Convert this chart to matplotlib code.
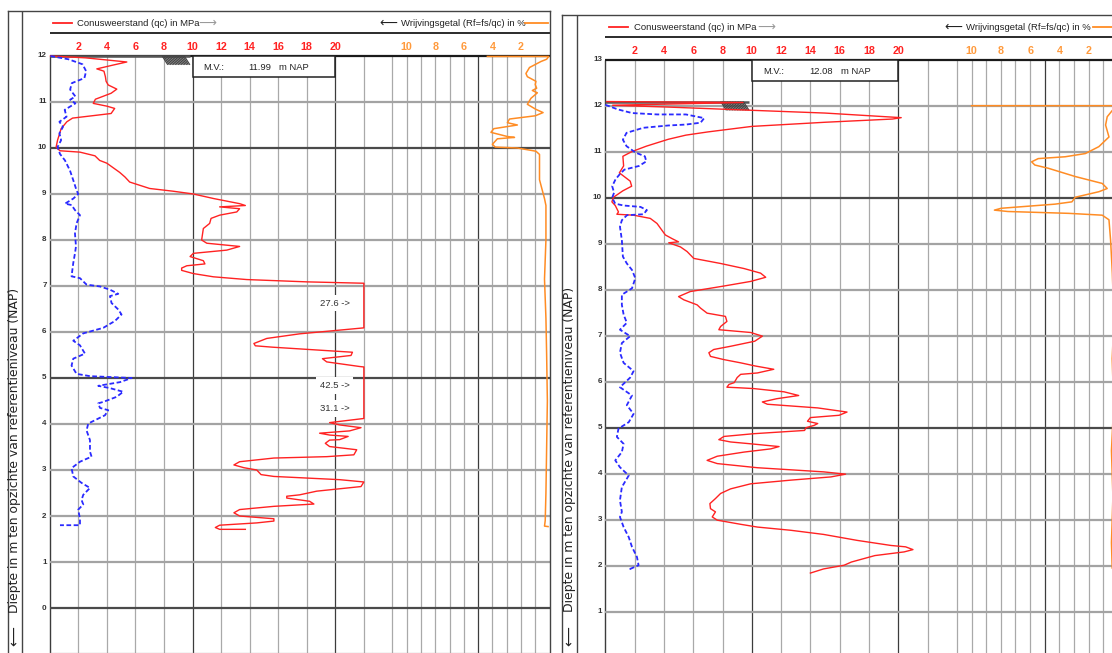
import numpy as np
import matplotlib
matplotlib.use('Agg')
import matplotlib.pyplot as plt
from matplotlib import font_manager
from matplotlib.patches import Rectangle

# pick a condensed font if there is one
names = {f.name for f in font_manager.fontManager.ttflist}
NARROW = 'Liberation Sans Narrow' if 'Liberation Sans Narrow' in names else 'Liberation Sans'
SCALE = 1.0 if NARROW == 'Liberation Sans Narrow' else 0.82

# ---------------- data: (value, depth m NAP) ----------------
# left sounding, M.V. 11.99 m NAP
mv_left = 11.99
qc_left = np.array([
    (0.05, 12.00), (2.5, 11.96), (5.4, 11.87), (4.4, 11.80), (3.3, 11.72), (3.8, 11.67),
    (3.9, 11.55), (3.95, 11.45), (4.1, 11.37), (4.7, 11.28), (4.3, 11.19), (3.2, 11.06),
    (3.05, 10.97), (4.0, 10.91), (4.55, 10.86), (4.3, 10.75), (1.6, 10.65), (1.2, 10.57),
    (0.8, 10.42), (0.55, 10.17), (0.45, 10.02), (0.72, 9.94), (2.12, 9.91), (3.17, 9.83),
    (3.5, 9.73), (4.0, 9.67), (4.9, 9.47), (5.27, 9.37), (5.6, 9.26), (7.0, 9.12),
    (8.66, 9.06), (10.06, 9.00), (11.5, 8.90), (13.3, 8.79), (13.7, 8.75), (11.9, 8.72),
    (13.3, 8.68), (13.1, 8.61), (11.9, 8.54), (11.3, 8.47), (11.2, 8.36), (10.76, 8.25),
    (10.64, 8.00), (11.0, 7.93), (13.3, 7.86), (12.4, 7.78), (10.06, 7.71), (9.83, 7.64),
    (10.76, 7.55), (10.87, 7.48), (9.6, 7.44), (9.24, 7.39), (9.24, 7.34), (10.06, 7.27),
    (11.46, 7.20), (13.8, 7.14), (18.0, 7.09), (22.0, 7.06), (22.0, 6.09), (17.5, 5.96),
    (15.2, 5.86), (14.3, 5.75), (14.4, 5.70), (15.6, 5.67), (21.2, 5.56), (21.1, 5.49),
    (19.1, 5.42), (19.4, 5.35), (21.7, 5.25), (22.0, 5.24), (22.0, 4.12), (19.6, 4.03),
    (20.3, 3.98), (21.8, 3.92), (21.0, 3.85), (18.9, 3.80), (19.6, 3.76), (20.9, 3.73),
    (20.3, 3.66), (19.6, 3.65), (19.3, 3.58), (19.6, 3.51), (21.5, 3.44), (21.3, 3.33),
    (19.4, 3.29), (15.7, 3.26), (13.3, 3.18), (12.9, 3.11), (13.6, 3.05), (14.5, 3.00),
    (14.8, 2.90), (15.7, 2.86), (20.3, 2.79), (22.0, 2.74), (21.8, 2.64), (18.7, 2.54),
    (17.5, 2.46), (16.6, 2.43), (16.6, 2.39), (18.2, 2.32), (18.5, 2.26), (15.7, 2.21),
    (13.3, 2.14), (12.9, 2.07), (13.3, 2.00), (15.7, 1.94), (15.7, 1.89), (14.5, 1.85),
    (11.9, 1.80), (11.6, 1.75), (11.9, 1.71), (13.7, 1.71)])
fs_left = np.array([
    (0.05, 12.00), (1.3, 11.93), (2.3, 11.82), (2.55, 11.67), (2.43, 11.52), (1.55, 11.41),
    (1.43, 11.27), (1.8, 11.12), (1.43, 11.05), (1.8, 10.97), (1.05, 10.83), (1.18, 10.68),
    (0.68, 10.57), (0.93, 10.46), (0.68, 10.32), (0.8, 10.17), (0.55, 10.02), (0.72, 9.87),
    (1.07, 9.73), (1.42, 9.51), (1.65, 9.30), (1.88, 9.08), (2.0, 9.00), (1.65, 8.90),
    (1.07, 8.79), (1.53, 8.76), (1.77, 8.65), (2.12, 8.54), (1.88, 8.36), (1.77, 8.14),
    (1.84, 7.86), (1.77, 7.71), (1.65, 7.50), (1.53, 7.21), (2.12, 7.17), (2.58, 7.03),
    (3.52, 6.99), (4.22, 6.92), (4.8, 6.83), (4.22, 6.78), (4.33, 6.63), (4.8, 6.49),
    (5.03, 6.38), (4.57, 6.24), (3.75, 6.09), (2.35, 5.97), (1.65, 5.81), (2.12, 5.71),
    (2.47, 5.53), (1.65, 5.42), (1.53, 5.27), (1.88, 5.09), (2.82, 5.04), (5.74, 5.00),
    (4.92, 4.91), (3.4, 4.83), (4.22, 4.78), (5.15, 4.70), (4.68, 4.59), (3.75, 4.48),
    (3.4, 4.45), (3.52, 4.35), (4.1, 4.30), (3.87, 4.19), (2.7, 4.01), (2.58, 3.86),
    (2.82, 3.65), (2.82, 3.40), (2.93, 3.29), (2.12, 3.18), (1.53, 3.04), (1.65, 2.86),
    (2.23, 2.72), (2.82, 2.61), (2.35, 2.46), (2.23, 2.35), (2.35, 2.25), (2.0, 2.14),
    (2.12, 1.93), (2.12, 1.80), (0.72, 1.80)])
rf_left = np.array([
    (4.35, 11.99), (0.05, 11.99), (0.2, 11.93), (0.6, 11.88), (1.4, 11.75), (1.65, 11.62),
    (1.55, 11.55), (0.95, 11.45), (1.0, 11.38), (0.9, 11.30), (1.2, 11.25), (0.85, 11.20),
    (1.3, 11.08), (1.55, 10.95), (0.95, 10.84), (0.45, 10.77), (1.0, 10.70), (2.8, 10.63),
    (2.95, 10.55), (2.25, 10.50), (3.9, 10.42), (4.1, 10.34), (2.95, 10.25), (2.45, 10.23),
    (3.65, 10.20), (4.0, 10.08), (3.8, 10.02), (2.25, 10.00), (0.95, 9.93), (0.7, 9.86),
    (0.7, 9.31), (0.35, 8.90), (0.25, 8.75), (0.25, 8.00), (0.35, 7.15), (0.25, 6.30),
    (0.2, 5.50), (0.15, 4.50), (0.2, 3.50), (0.25, 2.50), (0.3, 1.90), (0.35, 1.78),
    (0.1, 1.77)])
peak_val_left = [27.6, 42.5, 31.1]
peak_depth_left = [6.63, 4.84, 4.34]

# right sounding, M.V. 12.08 m NAP
mv_right = 12.08
qc_right = np.array([
    (0.1, 12.09), (9.4, 12.07), (0.5, 12.01), (4.3, 11.97), (10.0, 11.90), (15.0, 11.84),
    (20.2, 11.74), (19.6, 11.71), (15.0, 11.64), (10.0, 11.55), (7.0, 11.43), (5.5, 11.36),
    (4.3, 11.27), (2.8, 11.12), (1.8, 11.00), (1.2, 10.90), (1.25, 10.69), (0.96, 10.54),
    (1.7, 10.36), (1.8, 10.25), (1.2, 10.15), (0.56, 10.01), (0.45, 9.91), (0.68, 9.83),
    (0.9, 9.69), (0.79, 9.64), (1.93, 9.62), (3.07, 9.55), (3.53, 9.44), (3.87, 9.29),
    (4.1, 9.19), (4.56, 9.11), (5.0, 9.04), (4.33, 9.02), (5.13, 8.93), (5.58, 8.83),
    (6.04, 8.68), (7.87, 8.57), (9.47, 8.46), (10.6, 8.36), (10.95, 8.27), (9.92, 8.18),
    (8.1, 8.08), (5.8, 7.96), (5.0, 7.85), (5.36, 7.78), (6.27, 7.67), (6.5, 7.60),
    (6.95, 7.49), (8.2, 7.42), (8.3, 7.31), (7.87, 7.20), (7.75, 7.13), (9.92, 7.07),
    (10.72, 6.99), (10.2, 6.88), (8.55, 6.77), (7.4, 6.70), (7.07, 6.63), (7.18, 6.55),
    (8.1, 6.48), (9.24, 6.41), (10.26, 6.34), (11.5, 6.27), (10.38, 6.19), (9.24, 6.16),
    (9.0, 6.09), (8.8, 5.98), (8.44, 5.94), (8.3, 5.88), (9.0, 5.87), (10.15, 5.85),
    (12.2, 5.78), (13.2, 5.70), (11.7, 5.63), (10.72, 5.56), (11.06, 5.51), (14.5, 5.43),
    (16.5, 5.34), (15.96, 5.27), (14.0, 5.22), (13.8, 5.14), (14.5, 5.09), (14.25, 5.05),
    (13.7, 5.00), (13.6, 4.94), (10.15, 4.87), (8.1, 4.81), (7.75, 4.74), (8.55, 4.69),
    (9.92, 4.65), (11.86, 4.59), (11.3, 4.54), (9.47, 4.47), (7.64, 4.38), (6.95, 4.29),
    (7.64, 4.22), (10.38, 4.13), (14.9, 4.04), (16.4, 3.99), (15.4, 3.93), (12.66, 3.86),
    (9.92, 3.78), (8.55, 3.67), (7.87, 3.57), (7.52, 3.46), (7.14, 3.35), (7.18, 3.24),
    (7.52, 3.17), (7.3, 3.06), (7.64, 2.99), (9.24, 2.90), (10.38, 2.84), (12.66, 2.77),
    (14.9, 2.68), (17.2, 2.55), (19.5, 2.44), (20.5, 2.41), (21.0, 2.35), (20.4, 2.30),
    (18.4, 2.22), (16.8, 2.08), (16.3, 2.01), (14.9, 1.93), (14.0, 1.84)])
fs_right = np.array([
    (0.0, 12.02), (0.85, 11.92), (1.83, 11.84), (3.55, 11.81), (5.5, 11.81), (6.75, 11.73),
    (6.5, 11.63), (5.5, 11.59), (4.3, 11.57), (2.6, 11.52), (1.45, 11.41), (1.2, 11.26),
    (1.45, 11.12), (2.07, 10.98), (2.7, 10.90), (2.8, 10.79), (2.3, 10.69), (1.3, 10.61),
    (0.96, 10.50), (0.7, 10.40), (0.47, 10.25), (0.6, 10.11), (0.47, 10.00), (0.68, 9.87),
    (1.25, 9.83), (2.4, 9.80), (2.84, 9.73), (2.6, 9.64), (1.48, 9.62), (1.13, 9.51),
    (1.0, 9.37), (1.13, 9.08), (1.2, 8.72), (1.47, 8.57), (1.82, 8.43), (2.05, 8.25),
    (1.82, 8.03), (1.13, 7.89), (1.13, 7.67), (1.25, 7.46), (1.47, 7.28), (1.0, 7.13),
    (1.7, 6.99), (1.13, 6.84), (1.0, 6.63), (1.25, 6.41), (1.93, 6.23), (1.7, 6.09),
    (1.0, 5.88), (1.82, 5.70), (1.47, 5.49), (1.93, 5.30), (1.6, 5.12), (0.9, 4.98),
    (0.79, 4.80), (1.25, 4.65), (1.13, 4.47), (0.68, 4.29), (1.0, 4.14), (1.6, 3.96),
    (1.13, 3.71), (1.0, 3.42), (1.13, 3.17), (1.0, 3.06), (1.25, 2.84), (1.6, 2.62),
    (1.82, 2.41), (2.16, 2.19), (2.27, 2.01), (1.7, 1.93), (1.82, 1.97)])
rf_right = np.array([
    (10.0, 12.00), (0.39, 12.00), (0.28, 11.94), (0.74, 11.76), (0.85, 11.58), (0.62, 11.32),
    (1.31, 11.11), (2.23, 10.96), (3.61, 10.89), (5.45, 10.85), (5.9, 10.78), (5.68, 10.71),
    (4.76, 10.64), (2.92, 10.46), (1.08, 10.31), (0.74, 10.20), (1.31, 10.13), (2.92, 10.01),
    (3.15, 9.91), (4.3, 9.86), (7.98, 9.77), (8.44, 9.73), (7.52, 9.70), (3.38, 9.66),
    (1.08, 9.62), (0.62, 9.52), (0.51, 9.08), (0.39, 8.36), (0.28, 7.35), (0.4, 6.50),
    (0.3, 5.50), (0.45, 4.50), (0.35, 3.50), (0.45, 2.50), (0.4, 1.95)])
peak_val_right = []
peak_depth_right = []

qc_ticks = [2, 4, 6, 8, 10, 12, 14, 16, 18, 20]
rf_ticks = [10, 8, 6, 4, 2]

RF_ZERO = 35      # Rf scale drawn right to left: x = 35 - Rf
FRAME_L = -2.95
INNER_L = -1.95

RED = '#ff2222'
BLUE = '#2a2aff'
ORANGE = '#ff8c24'
DARK = '#333333'

W, H = 1112, 653
fig = plt.figure(figsize=(W / 100, H / 100), dpi=100)


def add_panel(qc0_px, px_qc, top, top_px, bottom):
    px_m = 46.0
    ylim_top = top + 0.98
    x0 = qc0_px + FRAME_L * px_qc
    x1 = qc0_px + RF_ZERO * px_qc
    y0 = top_px + (top - bottom) * px_m
    y1 = top_px - (ylim_top - top) * px_m
    ax = fig.add_axes([x0 / W, (H - y0) / H, (x1 - x0) / W, (y0 - y1) / H])
    ax.set_xlim(FRAME_L, RF_ZERO)
    ax.set_ylim(bottom, ylim_top)
    ax.set_xticks([])
    ax.set_yticks([])
    for s in ['left', 'top', 'right']:
        ax.spines[s].set_color('#444444')
        ax.spines[s].set_linewidth(1.0)
    ax.spines['bottom'].set_visible(False)
    return ax


def draw_panel(ax, top, mv, qc, fs, rf, peak_vals, peak_depths, label_y, first_label):
    bottom = ax.get_ylim()[0]
    ax.axvline(INNER_L, color='#444444', lw=1.0)

    # grid
    light_x = [2, 4, 6, 8, 12, 14, 16, 18, 22, 24, 25, 26, 27, 28, 29, 31, 32, 33, 34]
    ax.vlines(light_x, bottom, top, color='#a9a9a9', lw=0.9, zorder=1)
    ax.vlines([10, 20, 30], bottom, top, color='#3c3c3c', lw=0.9, zorder=1)
    ax.vlines(0, bottom, top, color='#3c3c3c', lw=1.0, zorder=1)
    levels = np.arange(np.ceil(bottom), top)
    ax.hlines([d for d in levels if d % 5], 0, RF_ZERO, color='#a3a3a3', lw=1.6, zorder=1)
    ax.hlines([d for d in levels if d % 5 == 0], 0, RF_ZERO, color='#4a4a4a', lw=1.6, zorder=1)

    for d in np.arange(first_label, top + 1):
        ax.text(-0.22, d, f'{d:.0f}', ha='right', va='center', fontsize=7 * SCALE,
                fontweight='bold', family=NARROW, color=DARK)

    # header
    white = dict(boxstyle='square,pad=0.15', fc='white', ec='none')
    ax.hlines(top, 0, RF_ZERO, color='#1a1a1a', lw=1.6, zorder=2)
    ax.hlines(top + 0.5, 0, RF_ZERO, color='#1a1a1a', lw=1.3, zorder=2)
    for v in qc_ticks:
        ax.text(v, top + 0.19, str(v), ha='center', va='center', color=RED,
                fontsize=9.5 * SCALE, fontweight='bold', family=NARROW, bbox=white, zorder=6)
    for v in rf_ticks:
        ax.text(RF_ZERO - v, top + 0.19, str(v), ha='center', va='center', color='#ff9a3c',
                fontsize=9.5 * SCALE, fontweight='bold', family=NARROW, bbox=white, zorder=6)

    hy = top + 0.71
    head = dict(boxstyle='square,pad=0.25', fc='white', ec='none')
    ax.plot([0.25, 1.55], [hy, hy], color=RED, lw=1.3, zorder=6)
    ax.text(1.93, hy, 'Conusweerstand (qc) in MPa', ha='left', va='center', fontsize=8.3 * SCALE,
            family=NARROW, color='#222222', bbox=head, zorder=6)
    ax.text(10.4, hy, '\u27f6', ha='left', va='center', fontsize=9, family='DejaVu Sans',
            color='#9a9a9a', zorder=6)
    ax.text(24.35, hy, '\u27f5', ha='right', va='center', fontsize=9, family='DejaVu Sans',
            color='#222222', zorder=6)
    ax.text(24.6, hy, 'Wrijvingsgetal (Rf=fs/qc) in %', ha='left', va='center',
            fontsize=8.3 * SCALE, family=NARROW, color='#222222', bbox=head, zorder=6)
    ax.plot([33.3, 34.9], [hy, hy], color=ORANGE, lw=1.3, zorder=6)

    # M.V. box
    ax.add_patch(Rectangle((10, top - 0.46), 10, 0.46, fc='white', ec='#222222', lw=1.1, zorder=4))
    mvbox = dict(boxstyle='square,pad=0.3', fc='white', ec='none')
    for x, s in [(11.5, 'M.V.:'), (14.7, f'{mv:.2f}'), (17.1, 'm NAP')]:
        ax.text(x, top - 0.25, s, ha='center', va='center', fontsize=8.2 * SCALE, family=NARROW,
                color='#222222', bbox=mvbox, zorder=5)

    # ground level marker
    ax.hlines(mv, 0, 9.8, color='#555555', lw=1.8, zorder=2)
    for x in np.arange(7.9, 9.5, 0.11):
        ax.plot([x, x + 0.35], [mv, mv - 0.17], color='#444444', lw=0.9, zorder=2)

    # soundings
    ax.plot(qc[:, 0], qc[:, 1], color=RED, lw=1.0, zorder=3)
    ax.plot(fs[:, 0], fs[:, 1], color=BLUE, lw=1.3, ls=(0, (2.6, 1.4)), zorder=3)
    ax.plot(RF_ZERO - rf[:, 0], rf[:, 1], color=ORANGE, lw=1.1, zorder=3)

    for v, d in zip(peak_vals, peak_depths):
        ax.text(21.0, d, f'{v} ->', ha='right', va='center', fontsize=8.3 * SCALE, family=NARROW,
                color=DARK, bbox=dict(boxstyle='square,pad=0.4', fc='white', ec='none'), zorder=6)

    # depth axis title
    xl = (FRAME_L + INNER_L) / 2
    ax.text(xl, label_y, 'Diepte in m ten opzichte van referentieniveau (NAP)', rotation=90,
            ha='center', va='bottom', fontsize=8.9, family='DejaVu Sans', color='#222222')
    ax.text(xl, label_y - 0.52, '\u27f5', rotation=90, ha='center', va='center', fontsize=10,
            family='DejaVu Sans', color='#222222')


ax_l = add_panel(49.7, 14.28, 12, 56.0, -1.5)
draw_panel(ax_l, 12, mv_left, qc_left, fs_left, rf_left, peak_val_left, peak_depth_left, -0.1, 0)

ax_r = add_panel(605.3, 14.65, 13, 59.7, -0.5)
draw_panel(ax_r, 13, mv_right, qc_right, fs_right, rf_right, peak_val_right, peak_depth_right, 1.0, 1)

fig.savefig('out.png', dpi=100)
